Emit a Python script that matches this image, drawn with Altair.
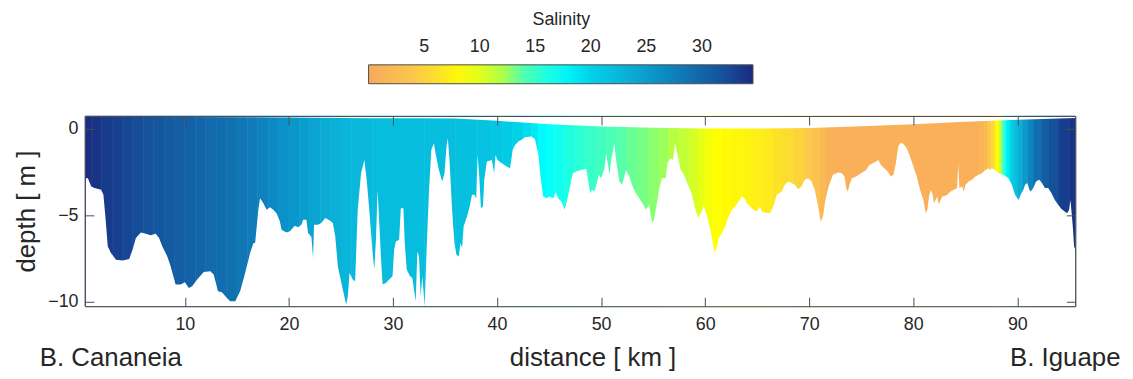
import altair as alt
import pandas as pd

# ---------------- data ----------------
# bottom profile: distance [km] and depth [m]
bot_km = [0.40, 0.52, 0.68, 1.00, 1.31, 1.95, 2.17, 2.36, 2.59, 2.90, 3.38, 4.02, 4.65, 4.97, 5.29, 5.77,
          6.25, 6.72, 7.20, 7.52, 7.84, 8.31, 8.63, 9.11, 9.59, 10.00, 10.38, 10.70, 11.18, 11.81, 12.45,
          12.77, 13.18, 13.56, 14.04, 14.36, 14.84, 15.31, 15.79, 16.27, 16.59, 16.75, 17.06, 17.22, 17.54,
          17.86, 18.18, 18.50, 18.81, 19.13, 19.29, 19.77, 20.09, 20.56, 20.88, 21.20, 21.36, 21.68, 21.84,
          22.16, 22.32, 22.41, 22.79, 23.11, 23.49, 23.91, 24.22, 24.45, 24.70, 25.18, 25.50, 25.66, 25.82,
          26.13, 26.36, 26.61, 26.93, 27.25, 27.50, 27.72, 28.04, 28.20, 28.36, 28.52, 28.68, 28.84, 29.00,
          29.31, 29.63, 29.95, 30.11, 30.27, 30.59, 30.75, 31.00, 31.13, 31.32, 31.64, 31.86, 32.02, 32.18,
          32.34, 32.50, 32.66, 32.82, 33.04, 33.23, 33.45, 33.68, 33.93, 34.09, 34.41, 34.73, 34.95, 35.14,
          35.27, 35.43, 35.68, 35.90, 36.10, 36.32, 36.48, 36.64, 36.79, 37.11, 37.37, 37.59, 37.81, 38.00,
          38.13, 38.29, 38.45, 38.64, 38.77, 39.02, 39.50, 39.72, 39.85, 40.04, 40.45, 40.93, 41.25, 41.50,
          41.73, 42.05, 42.36, 42.68, 43.32, 43.64, 43.95, 44.18, 44.43, 44.75, 45.07, 45.39, 45.64, 45.86,
          46.18, 46.50, 46.82, 47.14, 47.30, 47.61, 48.09, 48.57, 48.95, 49.14, 49.37, 49.59, 49.78, 50.00,
          50.32, 50.48, 50.64, 50.80, 50.96, 51.12, 51.27, 51.43, 51.59, 51.75, 52.01, 52.23, 52.39, 52.71,
          53.03, 53.34, 53.66, 53.98, 54.30, 54.62, 54.78, 54.93, 55.09, 55.25, 55.41, 55.57, 55.83, 56.21,
          56.37, 56.68, 56.91, 57.10, 57.32, 57.64, 57.96, 58.28, 58.69, 59.07, 59.33, 59.55, 59.87, 60.18,
          60.50, 60.73, 60.92, 61.14, 61.30, 61.62, 61.93, 62.25, 62.57, 62.89, 63.21, 63.53, 63.78, 64.00,
          64.32, 64.64, 64.96, 65.27, 65.44, 65.75, 66.23, 66.55, 66.87, 67.35, 67.66, 67.98, 68.30, 68.62,
          68.94, 69.25, 69.57, 69.89, 70.21, 70.53, 70.85, 71.10, 71.32, 71.55, 71.86, 72.28, 72.76, 73.14,
          73.39, 73.55, 73.71, 73.87, 74.09, 74.51, 74.98, 75.46, 75.78, 76.10, 76.41, 76.64, 76.89, 77.21,
          77.53, 77.85, 78.10, 78.32, 78.55, 78.80, 79.06, 79.37, 79.69, 80.01, 80.33, 80.65, 80.97, 81.19,
          81.35, 81.51, 81.67, 81.83, 81.98, 82.14, 82.30, 82.46, 82.62, 82.78, 83.00, 83.26, 83.58, 83.89,
          84.21, 84.31, 84.43, 84.69, 84.85, 85.01, 85.33, 85.64, 85.96, 86.28, 86.60, 86.92, 87.24, 87.39,
          87.55, 87.87, 88.19, 88.67, 89.14, 89.46, 89.78, 90.10, 90.32, 90.58, 90.74, 90.96, 91.15, 91.28,
          91.53, 91.79, 92.10, 92.36, 92.65, 92.96, 93.28, 93.60, 93.92, 94.24, 94.55, 94.78, 94.97, 95.10,
          95.22, 95.35, 95.45, 95.57]
bot_depth = [-2.85, -2.85, -2.85, -3.33, -3.42, -3.52, -3.81, -5.06, -6.79, -7.17, -7.56, -7.60, -7.52, -6.98,
             -6.31, -5.98, -6.06, -6.15, -6.06, -6.31, -6.79, -7.37, -7.94, -9.00, -9.00, -8.87, -9.19, -9.10,
             -8.71, -8.27, -8.23, -8.42, -9.38, -9.44, -9.77, -9.96, -9.96, -9.38, -8.33, -7.17, -6.60, -6.60,
             -4.67, -4.00, -4.29, -4.67, -4.52, -4.67, -4.87, -5.35, -5.83, -5.98, -5.92, -5.60, -5.69, -5.54,
             -5.25, -5.25, -6.02, -6.25, -7.46, -5.54, -5.54, -5.44, -5.15, -5.29, -5.44, -6.21, -7.94, -9.29,
             -10.15, -9.67, -8.33, -8.71, -8.81, -4.67, -2.56, -1.79, -3.13, -4.67, -7.17, -8.13, -6.40, -3.52,
             -5.44, -7.37, -9.00, -8.90, -8.71, -8.52, -6.98, -6.50, -6.40, -4.58, -4.58, -6.60, -8.13, -8.52,
             -8.62, -9.29, -9.96, -7.08, -7.37, -9.67, -8.52, -10.25, -6.98, -3.71, -1.21, -0.83, -1.40, -2.37,
             -3.04, -2.56, -1.02, -0.54, -1.79, -4.67, -6.60, -7.27, -7.37, -6.60, -6.88, -5.63, -5.06, -4.48,
             -3.81, -3.81, -4.00, -1.50, -2.75, -4.58, -4.48, -2.94, -1.88, -1.79, -2.56, -1.50, -1.79, -1.98,
             -2.17, -2.27, -1.21, -0.92, -0.73, -0.63, -0.48, -0.44, -0.60, -1.40, -2.75, -3.90, -4.00, -3.90,
             -4.00, -3.67, -4.00, -4.19, -4.67, -3.90, -2.94, -2.56, -2.46, -2.37, -2.30, -3.71, -3.52, -3.62,
             -3.13, -2.65, -2.85, -2.27, -1.40, -1.98, -2.65, -1.79, -1.31, -0.83, -1.79, -2.37, -3.04, -3.23,
             -2.75, -2.37, -2.75, -3.33, -3.71, -4.00, -4.29, -4.67, -4.38, -5.06, -5.44, -5.25, -4.67, -4.10,
             -3.52, -2.85, -2.85, -1.98, -1.69, -1.79, -0.83, -1.40, -2.37, -2.65, -3.13, -3.71, -4.67, -5.15,
             -4.87, -4.48, -5.06, -5.83, -6.60, -7.17, -6.79, -6.31, -6.02, -5.63, -5.06, -4.67, -4.48, -4.19,
             -3.90, -4.00, -4.29, -4.48, -4.67, -4.77, -4.48, -4.77, -4.83, -4.87, -4.48, -3.81, -3.62, -3.23,
             -3.04, -3.13, -3.23, -3.48, -3.33, -2.94, -2.85, -3.04, -3.52, -4.48, -5.35, -5.06, -4.10, -3.33,
             -2.65, -2.52, -2.56, -2.75, -3.42, -3.62, -3.23, -2.85, -2.75, -2.56, -2.37, -2.08, -1.98, -1.88,
             -1.79, -2.08, -2.27, -2.46, -2.75, -2.65, -1.98, -1.02, -0.79, -0.87, -1.12, -1.60, -2.17, -2.75,
             -3.52, -4.10, -4.87, -4.67, -3.90, -3.52, -3.71, -4.29, -4.10, -3.90, -4.38, -4.10, -3.90, -3.87,
             -3.81, -3.62, -3.52, -3.42, -1.98, -3.42, -3.33, -3.62, -3.23, -3.04, -2.94, -2.75, -2.65, -2.56,
             -2.37, -2.27, -2.37, -2.27, -2.37, -2.56, -2.65, -2.85, -3.23, -3.81, -4.10, -3.81, -3.52, -3.23,
             -3.13, -3.52, -3.62, -3.42, -3.04, -2.94, -3.13, -3.42, -3.42, -3.71, -4.10, -4.38, -4.63, -4.77,
             -4.87, -4.67, -4.10, -4.87, -5.83, -6.79, -6.98]

# water surface (top of the section)
surf_km = [0.40, 10.0, 20.0, 28.0, 33.0, 36.0, 40.0, 45.0, 50.0, 55.0, 60.0, 65.0, 70.0, 75.0, 80.0,
           85.0, 90.0, 95.57]
surf_z = [0.70, 0.69, 0.67, 0.62, 0.62, 0.60, 0.47, 0.27, 0.15, 0.07, 0.03, 0.03, 0.06, 0.16, 0.28,
          0.42, 0.54, 0.64]

# salinity along the section
sal_km = [0.4, 1.0, 2.0, 3.0, 4.0, 5.0, 6.0, 7.0, 8.0, 9.0, 10.0, 11.0, 12.0, 13.0, 14.0, 15.0, 16.0,
          17.0, 18.0, 19.0, 20.0, 21.0, 22.0, 23.0, 24.0, 25.0, 26.0, 28.0, 30.0, 33.0, 36.0, 38.0, 39.5,
          40.5, 41.5, 42.5, 43.3, 44.0, 44.7, 45.5, 46.5, 47.5, 48.5, 49.5, 50.5, 51.5, 52.5, 53.5, 54.5,
          55.5, 56.5, 57.5, 58.5, 59.3, 60.0, 60.8, 61.6, 62.5, 63.5, 64.5, 65.5, 66.5, 67.5, 68.5, 69.5,
          70.3, 71.0, 71.6, 72.3, 74.0, 78.0, 82.0, 85.5, 86.3, 86.8, 87.2, 87.5, 87.8, 88.0, 88.2, 88.4,
          88.6, 88.8, 89.0, 89.3, 89.6, 90.0, 90.5, 91.0, 91.6, 92.3, 93.0, 94.0, 95.0]
sal_val = [34.3, 34.0, 33.4, 33.0, 32.6, 32.2, 31.8, 31.4, 31.0, 30.7, 30.4, 30.0, 29.7, 29.3, 29.0, 28.5,
           28.0, 27.4, 26.8, 26.1, 25.5, 24.9, 24.3, 23.7, 23.2, 22.7, 22.4, 22.1, 22.0, 21.9, 21.7, 21.4,
           21.0, 20.6, 20.0, 19.3, 18.6, 17.6, 17.0, 16.5, 16.0, 15.5, 15.0, 14.6, 14.2, 13.9, 13.5, 13.2,
           12.8, 12.4, 11.9, 11.3, 10.5, 9.7, 9.0, 8.6, 8.3, 8.0, 7.7, 7.3, 6.9, 6.4, 5.8, 5.1, 4.3, 3.3,
           2.2, 1.4, 1.0, 0.9, 0.9, 0.9, 1.0, 1.6, 2.6, 4.0, 5.5, 7.2, 8.6, 10.3, 12.5, 15.0, 17.0, 18.5,
           20.0, 21.5, 23.3, 25.3, 27.2, 29.2, 30.8, 32.0, 33.2, 34.0]

# colour bar
cbar_stops = [0.0, 4.3, 8.6, 11.9, 14.0, 17.2, 20.0, 23.0, 26.0, 29.0, 32.0, 34.6]
cbar_colors = ["#f8a95c", "#fcc94a", "#ffff00", "#b5ff40", "#50ffb0", "#00ffff", "#00d2e8",
               "#0bb2d8", "#0a92c8", "#1170b0", "#15509a", "#1a2a80"]
cbar_ticks = [5, 10, 15, 20, 25, 30]

x_ticks = [10, 20, 30, 40, 50, 60, 70, 80, 90]
y_ticks = [-10, -5, 0]
x_domain = [0.40, 95.57]
y_domain = [-10.25, 0.75]

# ---------------- chart ----------------
W, H = 997, 191.5
FONT = "Liberation Sans"
GRAY = "#4d4d4d"
TXT = "#262626"
CB_LEFT, CB_LEN, CB_TOP = 281.5, 387, -51.5   # colour-bar placement relative to the plot area

strips = pd.DataFrame({"km": sal_km, "km2": sal_km[1:] + [x_domain[1]], "sal": sal_val,
                       "sal_edge": sal_val})
bottom = pd.DataFrame({"km": bot_km, "depth": bot_depth})
surface = pd.DataFrame({"km": surf_km, "z": surf_z})
cb_tick_df = pd.DataFrame({"t": cbar_ticks})

xs = alt.Scale(domain=x_domain, nice=False, zero=False)
ys = alt.Scale(domain=y_domain, nice=False, zero=False)
cs = alt.Scale(domain=cbar_stops, range=cbar_colors, interpolate="rgb")
# same colours for the strip edges (hides hairline seams); separate domain object so that
# Vega-Lite does not merge it into the colour-bar legend
edge_stops = cbar_stops[:-1] + [cbar_stops[-1] + 1e-6]
cs_edge = alt.Scale(domain=edge_stops, range=cbar_colors, interpolate="rgb")

base_axis = dict(grid=False, zindex=1, domainColor=GRAY, tickColor=GRAY, labelColor=TXT,
                 labelFont=FONT, titleFont=FONT, titleColor=TXT, domainWidth=1, tickWidth=1)


def neg(v):
    return {"expr": str(-v)}


strips_layer = alt.Chart(strips).mark_rect(strokeWidth=0.6).encode(
    x=alt.X("km:Q", scale=xs, axis=alt.Axis(
        orient="bottom", values=x_ticks, ticks=False, domain=True, labelFontSize=18,
        labelPadding=9, title="distance [ km ]", titleFontSize=26, titleFontWeight="normal",
        titleX=511, titleY=60, titleBaseline="alphabetic", titleAlign="center", **base_axis)),
    x2="km2:Q",
    y=alt.value(0),
    y2=alt.value(H),
    color=alt.Color("sal:Q", scale=cs, legend=alt.Legend(
        type="gradient", title="Salinity", orient="none", direction="horizontal",
        legendX=CB_LEFT + 4, legendY=-105.5,
        gradientLength=CB_LEN, gradientThickness=19, gradientStrokeColor=GRAY, gradientStrokeWidth=1,
        values=cbar_ticks, labelFontSize=18, labelFont=FONT, labelColor=TXT, labelOffset=neg(46),
        titleFontSize=18, titleFont=FONT, titleColor=TXT, titleFontWeight="normal",
        titleAnchor="middle", titlePadding=36, padding=0)),
    stroke=alt.Stroke("sal_edge:Q", scale=cs_edge, legend=None),
)

# small tick marks on the colour bar
cb_ticks_layer = alt.Chart(cb_tick_df).mark_rule(color=GRAY, strokeWidth=1.2).encode(
    x=alt.X("t:Q", scale=alt.Scale(domain=[cbar_stops[0], cbar_stops[-1]],
                                   range=[CB_LEFT, CB_LEFT + CB_LEN]), axis=None),
    y=alt.value(CB_TOP),
    y2=alt.value(CB_TOP + 4),
)

bottom_mask = alt.Chart(bottom).mark_area(color="white", clip=True).encode(
    x=alt.X("km:Q", scale=xs, axis=alt.Axis(
        orient="top", offset=neg(H), values=x_ticks, labels=False, domain=False, ticks=True,
        tickSize=9, title=None, **base_axis)),
    y=alt.Y("depth:Q", scale=ys, axis=alt.Axis(
        orient="left", values=y_ticks, ticks=False, domain=True, labelFontSize=18, labelPadding=7,
        title="depth [ m ]", titleFontSize=26, titleFontWeight="normal", titleX=-59, titleY=H / 2,
        titleBaseline="middle", titleAlign="center", **base_axis)),
    y2=alt.datum(y_domain[0]),
)

surface_mask = alt.Chart(surface).mark_area(color="white", clip=True).encode(
    x=alt.X("km:Q", scale=xs, axis=alt.Axis(
        orient="bottom", offset=neg(H), values=x_ticks, labels=False, domain=True, ticks=True,
        tickSize=9, title=None, **base_axis)),
    y=alt.Y("z:Q", scale=ys, axis=alt.Axis(
        orient="left", offset=neg(W), values=y_ticks, labels=False, domain=True, ticks=True,
        tickSize=9, title=None, **base_axis)),
    y2=alt.datum(y_domain[1]),
)

left_ticks = alt.Chart(surface).mark_area(opacity=0).encode(
    x=alt.X("km:Q", scale=xs, axis=None),
    y=alt.Y("z:Q", scale=ys, axis=alt.Axis(
        orient="right", offset=neg(W), values=y_ticks, labels=False, domain=False, ticks=True,
        tickSize=9, title=None, **base_axis)),
)

names = pd.DataFrame({"label": ["B. Cananeia", "B. Iguape"]})
left_name = alt.Chart(names.iloc[[0]]).mark_text(
    align="left", baseline="alphabetic", fontSize=26, font=FONT, color=TXT
).encode(text="label:N", x=alt.value(-45.5), y=alt.value(251.5))
right_name = alt.Chart(names.iloc[[1]]).mark_text(
    align="right", baseline="alphabetic", fontSize=26, font=FONT, color=TXT
).encode(text="label:N", x=alt.value(1042.5), y=alt.value(251.5))

chart = alt.layer(
    strips_layer, bottom_mask, surface_mask, left_ticks, cb_ticks_layer, left_name, right_name
).resolve_scale(x="independent").resolve_axis(x="independent", y="independent").properties(
    width=W, height=H,
    padding={"left": 77.5, "top": 107.5, "right": 50, "bottom": 68},
    autosize=alt.AutoSizeParams(type="none"),
).configure_view(stroke=None).configure(background="white")

chart.save("out.html", embed_options={"renderer": "svg", "actions": False})
